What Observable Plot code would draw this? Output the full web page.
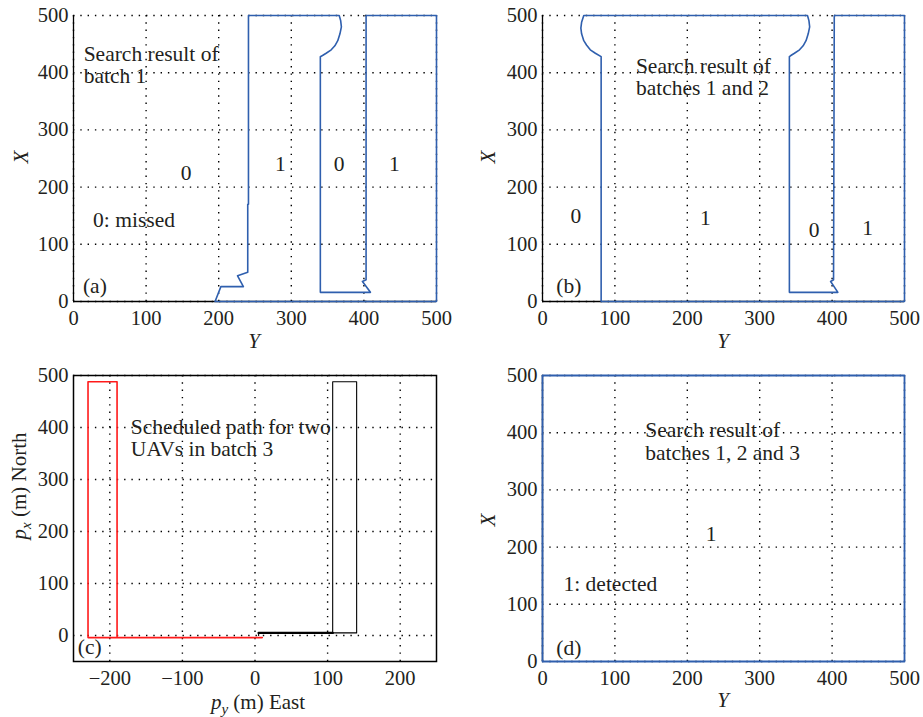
<!DOCTYPE html>
<html><head><meta charset="utf-8">
<script src="https://cdn.jsdelivr.net/npm/d3@7"></script>
<script src="https://cdn.jsdelivr.net/npm/@observablehq/plot@0.6"></script>
<style>
body{margin:0;background:#fff;}
#root{position:relative;width:923px;height:717px;overflow:hidden;background:#fff;}
#root > svg{position:absolute;}
#root svg, #root svg text{font-family:"Liberation Serif","Times New Roman",serif !important;}
</style></head><body><div id="root"></div>
<script>
// ---- tick values ----
const ticks500 = [0, 100, 200, 300, 400, 500];
const ticksEast = [-200, -100, 0, 100, 200];

// ---- panel (a): boundary of searched region after batch 1 (Y horizontal, X vertical) ----
const aY = [195, 203, 234, 226, 240, 240, 241, 241, 366, 368, 369, 367, 364, 360, 355, 348, 343, 340, 340, 409, 398, 403, 403, 500, 500, 195];
const aX = [0, 26, 26, 45, 51, 170, 170, 500, 500, 491, 480, 468, 456, 447, 440, 434, 430, 428, 16, 16, 35, 38, 500, 500, 0, 0];

// ---- panel (b): boundary after batches 1 and 2 ----
const bY = [81, 81, 73, 66, 61, 57, 54, 53, 54, 57, 366, 368, 369, 367, 364, 360, 355, 348, 343, 341, 341, 408, 398, 402, 403, 500, 500, 81];
const bX = [0, 428, 434, 440, 448, 456, 468, 478, 488, 500, 500, 491, 480, 468, 456, 447, 440, 434, 430, 428, 16, 16, 35, 38, 500, 500, 0, 0];

// ---- panel (c): scheduled paths of the two UAVs in batch 3 (East, North) ----
const redEast = [10, -230, -230, -190, -190];
const redNorth = [-4, -4, 488, 488, -4];
const blackEast = [5, 5, 107, 107, 140, 140, 107];
const blackNorth = [0, 5, 5, 488, 488, 5, 5];
const blackBoldEast = [5, 107];
const blackBoldNorth = [5, 5];

// ---- panel (d): whole area detected ----
const dY = [0, 500, 500, 0, 0];
const dX = [0, 0, 500, 500, 0];

// ---- annotations ----
const aNotes = [
  {t: "Search result of\nbatch 1", y: 14, x: 414},
  {t: "0", y: 155, x: 224, c: true},
  {t: "1", y: 285, x: 240, c: true},
  {t: "0", y: 366, x: 241, c: true},
  {t: "1", y: 442, x: 240, c: true},
  {t: "0: missed", y: 27, x: 142},
  {t: "(a)", y: 13, x: 28}
];
const bNotes = [
  {t: "Search result of\nbatches 1 and 2", y: 129, x: 393},
  {t: "0", y: 46, x: 149, c: true},
  {t: "1", y: 225, x: 146, c: true},
  {t: "0", y: 375, x: 124, c: true},
  {t: "1", y: 449, x: 128, c: true},
  {t: "(b)", y: 19, x: 28}
];
const cNotes = [
  {t: "Scheduled path for two\nUAVs in batch 3", y: -171, x: 380},
  {t: "(c)", y: -244, x: -22}
];
const dNotes = [
  {t: "Search result of\nbatches 1, 2 and 3", y: 142, x: 385},
  {t: "1", y: 233, x: 222, c: true},
  {t: "1: detected", y: 29, x: 135},
  {t: "(d)", y: 19, x: 24}
];

const root = document.getElementById("root");
const BLUE = "#2f5fae";
const INK = "#231f20";
const SERIF = "'Liberation Serif', 'Times New Roman', serif";

function zipPts(xs, ys) { return xs.map((v, i) => ({h: v, v: ys[i]})); }

function notesMarks(notes) {
  return [
    Plot.text(notes.filter(d => !d.c), {x: "y", y: "x", text: "t", textAnchor: "start", lineAnchor: "middle", lineHeight: 1.04, fontSize: 21.5, fontFamily: SERIF, fill: INK}),
    Plot.text(notes.filter(d => d.c), {x: "y", y: "x", text: "t", textAnchor: "middle", lineAnchor: "middle", fontSize: 21.5, fontFamily: SERIF, fill: INK})
  ];
}

function grid(xt, yt) {
  const g = {stroke: "#000", strokeOpacity: 1, strokeWidth: 1.4, strokeDasharray: "1.4,5.9"};
  return [Plot.gridX(xt, g), Plot.gridY(yt, g)];
}

function panel({left, top, width, height, ml, mr, mt, mb, xdom, ydom, xt, yt, marks}) {
  const svg = Plot.plot({
    width, height,
    marginLeft: ml, marginRight: mr, marginTop: mt, marginBottom: mb,
    x: {domain: xdom, ticks: xt, tickSize: 0, tickPadding: 9, label: null},
    y: {domain: ydom, ticks: yt, tickSize: 0, tickPadding: 5, label: null},
    style: {fontFamily: SERIF, fontSize: "20.5px", color: INK, background: "transparent", overflow: "visible"},
    marks
  });
  svg.style.left = left + "px";
  svg.style.top = top + "px";
  root.appendChild(svg);
  return svg;
}

function addLabel(svg, x, y, rotate, parts) {
  const t = d3.select(svg).append("text")
    .attr("transform", `translate(${x},${y}) rotate(${rotate})`)
    .attr("text-anchor", "middle")
    .attr("dy", "0.35em")
    .attr("fill", INK)
    .style("font-size", "21px");
  parts.forEach(p => {
    const s = t.append("tspan").text(p.t);
    if (p.italic) s.style("font-style", "italic");
    if (p.sub) s.attr("dy", 5).style("font-size", "15px");
    if (p.after) s.attr("dy", -5);
  });
}

// (a)
const svgA = panel({
  left: 0, top: 0, width: 460, height: 355, ml: 73, mr: 24, mt: 15, mb: 54,
  xdom: [0, 500], ydom: [0, 500], xt: ticks500, yt: ticks500,
  marks: [
    ...grid(ticks500, ticks500),
    Plot.ruleX([0], {stroke: "#000", strokeWidth: 1.3}),
    Plot.ruleY([0], {stroke: "#000", strokeWidth: 1.3}),
    Plot.line(zipPts(aY, aX), {x: "h", y: "v", stroke: BLUE, strokeWidth: 1.6, curve: "linear"}),
    ...notesMarks(aNotes)
  ]
});
addLabel(svgA, 21, 157, -90, [{t: "X", italic: true}]);
addLabel(svgA, 254, 341, 0, [{t: "Y", italic: true}]);

// (b)
const svgB = panel({
  left: 460, top: 0, width: 463, height: 355, ml: 82, mr: 19, mt: 15, mb: 54,
  xdom: [0, 500], ydom: [0, 500], xt: ticks500, yt: ticks500,
  marks: [
    ...grid(ticks500, ticks500),
    Plot.ruleX([0], {stroke: "#000", strokeWidth: 1.3}),
    Plot.ruleY([0], {stroke: "#000", strokeWidth: 1.3}),
    Plot.line(zipPts(bY, bX), {x: "h", y: "v", stroke: BLUE, strokeWidth: 1.6, curve: "linear"}),
    ...notesMarks(bNotes)
  ]
});
addLabel(svgB, 28, 157, -90, [{t: "X", italic: true}]);
addLabel(svgB, 263, 341, 0, [{t: "Y", italic: true}]);

// (c)
const svgC = panel({
  left: 0, top: 355, width: 460, height: 362, ml: 73, mr: 24, mt: 20, mb: 56,
  xdom: [-250, 250], ydom: [-50, 500], xt: ticksEast, yt: ticks500,
  marks: [
    ...grid(ticksEast, ticks500),
    Plot.frame({stroke: "#000", strokeWidth: 1.5}),
    Plot.line(zipPts(blackEast, blackNorth), {x: "h", y: "v", stroke: "#000", strokeWidth: 1.1}),
    Plot.line(zipPts(blackBoldEast, blackBoldNorth), {x: "h", y: "v", stroke: "#000", strokeWidth: 2.4}),
    Plot.line(zipPts(redEast, redNorth), {x: "h", y: "v", stroke: "#ff1a1a", strokeWidth: 1.6}),
    ...notesMarks(cNotes)
  ]
});
addLabel(svgC, 19, 131, -90, [{t: "p", italic: true}, {t: "x", italic: true, sub: true}, {t: " (m) North", after: true}]);
addLabel(svgC, 258, 347, 0, [{t: "p", italic: true}, {t: "y", italic: true, sub: true}, {t: " (m) East", after: true}]);

// (d)
const svgD = panel({
  left: 460, top: 355, width: 463, height: 362, ml: 82, mr: 19, mt: 20, mb: 56,
  xdom: [0, 500], ydom: [0, 500], xt: ticks500, yt: ticks500,
  marks: [
    ...grid(ticks500, ticks500),
    Plot.ruleX([0], {stroke: "#000", strokeWidth: 1.3}),
    Plot.line(zipPts(dY, dX), {x: "h", y: "v", stroke: BLUE, strokeWidth: 1.8}),
    ...notesMarks(dNotes)
  ]
});
addLabel(svgD, 28, 165, -90, [{t: "X", italic: true}]);
addLabel(svgD, 263, 345, 0, [{t: "Y", italic: true}]);
</script></body></html>
